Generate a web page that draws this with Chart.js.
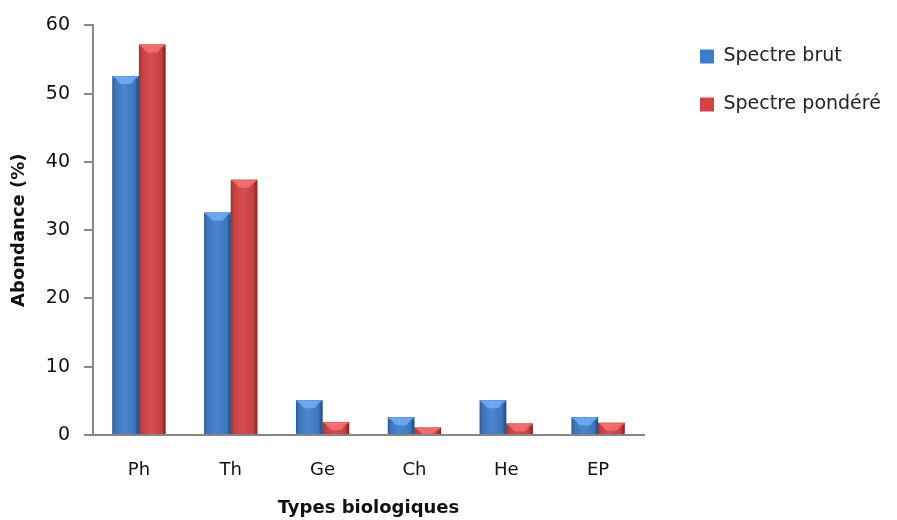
<!DOCTYPE html>
<html>
<head>
<meta charset="utf-8">
<script src="https://cdn.jsdelivr.net/npm/chart.js@4"></script>
<style>
  html, body { margin: 0; padding: 0; background: #fff; }
  #wrap { width: 897px; height: 520px; }
</style>
</head>
<body>
<div id="wrap"><canvas id="chart" width="897" height="520"></canvas></div>
<script>
// Types biologiques - spectre brut vs pondéré
const categories = ['Ph', 'Th', 'Ge', 'Ch', 'He', 'EP'];
const spectreBrut = [52.6, 32.6, 5.1, 2.6, 5.1, 2.6];
const spectrePondere = [57.2, 37.4, 1.9, 1.1, 1.7, 1.8];
const yTicks = [0, 10, 20, 30, 40, 50, 60];

const AXIS_GREY = '#868686';
const FONT = 'DejaVu Sans';
const LEGEND_PAD = 29;

// shading + bevelled top, drawn over each bar from its own geometry
const bevelPlugin = {
    id: 'bevel',
    afterDatasetsDraw(chart) {
        const ctx = chart.ctx;
        chart.data.datasets.forEach((ds, i) => {
            chart.getDatasetMeta(i).data.forEach(bar => {
                const { x, y, base, width } = bar.getProps(['x', 'y', 'base', 'width'], true);
                const l = x - width / 2, r = x + width / 2;
                const g = ctx.createLinearGradient(l, 0, r, 0);
                g.addColorStop(0, 'rgba(0,0,0,0.28)');
                g.addColorStop(0.12, 'rgba(0,0,0,0.06)');
                g.addColorStop(0.45, 'rgba(255,255,255,0.06)');
                g.addColorStop(0.85, 'rgba(0,0,0,0.06)');
                g.addColorStop(1, 'rgba(0,0,0,0.45)');
                ctx.save();
                ctx.fillStyle = g;
                ctx.fillRect(l, y, width, base - y);
                const h = Math.min(8, base - y);
                ctx.fillStyle = ds.topColor;
                ctx.fillRect(l + 1, y, width - 2, Math.min(2, h));
                ctx.fillStyle = ds.bevelColor;
                ctx.beginPath();
                ctx.moveTo(l + 2, y + 1);
                ctx.lineTo(r - 2, y + 1);
                ctx.lineTo(r - 8, y + h);
                ctx.lineTo(l + 8, y + h);
                ctx.closePath();
                ctx.fill();
                ctx.restore();
            });
        });
    }
};

// keep the legend column a fixed width so the plot ends where the original does
const legendWidthPlugin = {
    id: 'legendWidth',
    beforeUpdate(chart) {
        const lg = chart.legend;
        if (lg && !lg._fixedFit) {
            const fit = lg.fit.bind(lg);
            lg.fit = function () { fit(); this.width = 253; };
            lg._fixedFit = true;
        }
    },
    afterLayout(chart) {
        if (chart.legend) {
            chart.legend.left = 700 - LEGEND_PAD;
            chart.legend.top += 3;
        }
    }
};

new Chart(document.getElementById('chart').getContext('2d'), {
    type: 'bar',
    data: {
        labels: categories,
        datasets: [
            {
                label: 'Spectre brut',
                data: spectreBrut,
                backgroundColor: '#3f7dca',
                topColor: '#5a9be6',
                bevelColor: 'rgba(120,180,250,0.75)',
                borderWidth: 0,
                barPercentage: 1.0,
                categoryPercentage: 0.58,
            },
            {
                label: 'Spectre pondéré',
                data: spectrePondere,
                backgroundColor: '#d34343',
                topColor: '#e86060',
                bevelColor: 'rgba(250,120,120,0.75)',
                borderWidth: 0,
                barPercentage: 1.0,
                categoryPercentage: 0.58,
            },
        ],
    },
    options: {
        responsive: false,
        animation: false,
        layout: { padding: { top: 15, right: 0, left: 0, bottom: 0 } },
        plugins: {
            tooltip: { enabled: false },
            legend: {
                position: 'right',
                align: 'start',
                labels: {
                    color: '#222',
                    font: { family: FONT, size: 19 },
                    boxWidth: 14,
                    boxHeight: 14,
                    padding: LEGEND_PAD,
                    generateLabels(chart) {
                        return chart.data.datasets.map((ds, i) => ({
                            text: ds.label,
                            fillStyle: ds.backgroundColor,
                            strokeStyle: ds.backgroundColor,
                            lineWidth: 0,
                            datasetIndex: i,
                            fontColor: '#222',
                        }));
                    },
                },
            },
        },
        scales: {
            x: {
                afterFit: s => { s.height = 85; },
                grid: { display: false, drawTicks: false },
                border: { color: AXIS_GREY, width: 2 },
                ticks: { color: '#111', font: { family: FONT, size: 18 }, padding: 25 },
                title: {
                    display: true,
                    text: 'Types biologiques',
                    color: '#111',
                    font: { family: FONT, size: 18, weight: 'bold' },
                    padding: { top: 4, bottom: 1 },
                },
            },
            y: {
                min: 0,
                max: 60,
                afterFit: s => { s.width = 93; },
                afterBuildTicks: s => { s.ticks = yTicks.map(v => ({ value: v })); },
                grid: { drawOnChartArea: false, drawTicks: true, tickLength: 9, color: AXIS_GREY, lineWidth: 2 },
                border: { color: AXIS_GREY, width: 2 },
                ticks: { color: '#111', font: { family: FONT, size: 19 }, padding: 14 },
                title: {
                    display: true,
                    text: 'Abondance (%)',
                    color: '#111',
                    font: { family: FONT, size: 18, weight: 'bold' },
                    padding: { top: 9, bottom: 4 },
                },
            },
        },
    },
    plugins: [legendWidthPlugin, bevelPlugin],
});
</script>
</body>
</html>
